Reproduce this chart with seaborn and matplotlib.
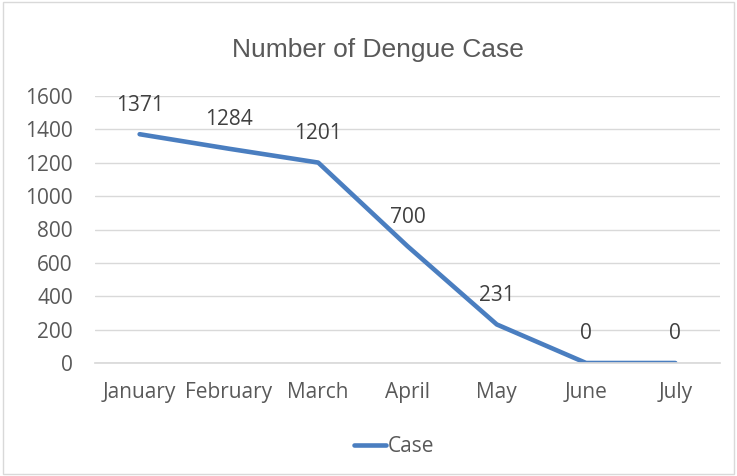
import matplotlib
matplotlib.use("Agg")
import matplotlib.pyplot as plt
import seaborn as sns
import pandas as pd
from matplotlib.patches import Rectangle
from matplotlib.lines import Line2D

months = ["January", "February", "March", "April", "May", "June", "July"]
cases = [1371, 1284, 1201, 700, 231, 0, 0]
yticks = [0, 200, 400, 600, 800, 1000, 1200, 1400, 1600]

df = pd.DataFrame({"Month": months, "Case": cases, "x": range(len(months))})

sns.set_theme(style="white")
plt.rcParams['font.family'] = ['Open Sans', 'DejaVu Sans']

fig = plt.figure(figsize=(7.37, 4.76), dpi=100)
ax = fig.add_axes([95 / 737, 1 - 363 / 476, 625 / 737, 267 / 476])

line_color = "#4A7EC0"
text_color = "#595959"
fs = 15

sns.lineplot(data=df, x="x", y="Case", ax=ax, color=line_color, linewidth=3.3,
             solid_capstyle="round", legend=False)

ax.set_xlim(-0.5, len(months) - 0.5)
ax.set_ylim(0, 1600)
ax.set_yticks(yticks)
ax.set_yticklabels([str(t) for t in yticks])
ax.set_xticks(range(len(months)))
ax.set_xticklabels(months)
ax.set_xlabel("")
ax.set_ylabel("")
ax.grid(axis="y", color="#D9D9D9", linewidth=1)
ax.set_axisbelow(True)
for s in ["top", "right", "left"]:
    ax.spines[s].set_visible(False)
ax.spines["bottom"].set_color("#D9D9D9")
ax.tick_params(axis="both", length=0, labelsize=fs, labelcolor=text_color)
ax.tick_params(axis="x", pad=14)
ax.tick_params(axis="y", pad=16)

for i, v in enumerate(cases):
    ax.annotate(str(v), (i, v), xytext=(0, 21), textcoords="offset points",
                ha="center", va="center", fontsize=fs, color="#404040")

fig.text(0.513, 0.895, "Number of Dengue Case", ha="center", va="center",
         fontsize=19, color=text_color, family=["Liberation Sans", "DejaVu Sans"])

handle = Line2D([0], [0], color=line_color, linewidth=3.3, solid_capstyle="round")
fig.legend([handle], ["Case"], loc="center", bbox_to_anchor=(0.535, 0.061),
           frameon=False, fontsize=fs, handlelength=1.5, handletextpad=0.1,
           labelcolor=text_color)

fig.patches.append(Rectangle((0.004, 0.004), 0.992, 0.992, transform=fig.transFigure,
                             fill=False, edgecolor="#D9D9D9", linewidth=1))

fig.savefig("out.png", dpi=100)
